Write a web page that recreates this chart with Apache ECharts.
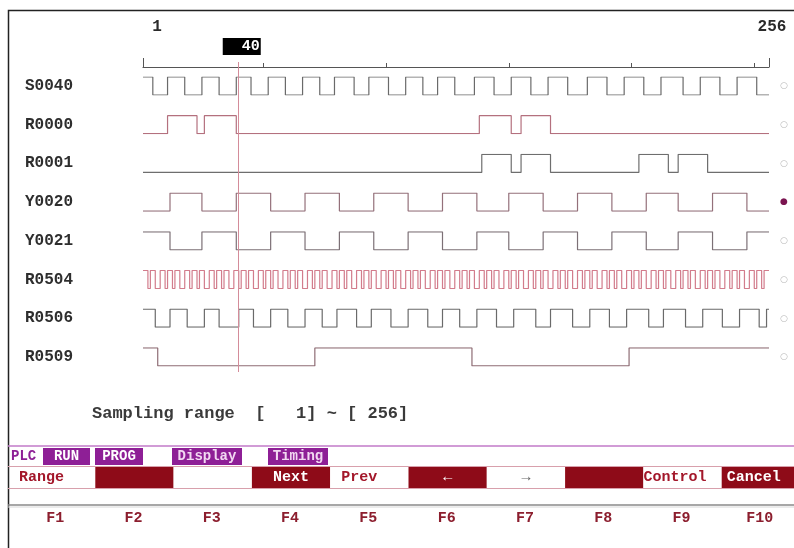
<!DOCTYPE html>
<html>
<head>
<meta charset="utf-8">
<script src="https://cdn.jsdelivr.net/npm/echarts@6/dist/echarts.min.js"></script>
<style>
  html, body { margin: 0; padding: 0; background: #fff; }
  #main { width: 794px; height: 548px; }
</style>
</head>
<body>
<div id="main"></div>
<script>
  // 采样范围 / 光标
  var sampleMin = 1;
  var sampleMax = 256;
  var cursorAt = 40;
  var tickValues = [1, 50, 100, 150, 200, 250, 256];
  var endTicks = [1, 256];

  // 信号名、初始电平、跳变点（采样序号）
  var signalNames = ['S0040', 'R0000', 'R0001', 'Y0020', 'Y0021', 'R0504', 'R0506', 'R0509'];
  var startLevels = [1, 0, 0, 0, 1, 1, 1, 1];
  var s0040Edges = [5, 11, 18, 25, 32, 39, 45, 52, 59, 66, 73, 79, 87, 93, 101, 108, 115, 121, 128, 136,
    144, 151, 159, 166, 174, 182, 190, 197, 205, 212, 221, 228, 236, 243, 251];
  var r0000Edges = [11, 23, 26, 39, 138, 151, 155, 167];
  var r0001Edges = [139, 151, 155, 167, 203, 215, 219, 231];
  var y0020Edges = [12, 25, 39, 53, 67, 81, 95, 109, 123, 137, 150, 164, 178, 192, 206, 219, 233, 247];
  var y0021Edges = [12, 25, 39, 53, 67, 81, 95, 109, 123, 137, 150, 164, 178, 192, 206, 219, 233, 247];
  var r0504Edges = [3, 4, 6, 8, 10, 11, 13, 14, 16, 18, 20, 21, 23, 24, 26, 28, 30, 31, 33, 34, 36, 38, 40, 41,
    43, 44, 46, 48, 50, 51, 53, 54, 56, 58, 60, 61, 63, 64, 66, 68, 70, 71, 73, 74, 76, 78, 80, 81,
    83, 84, 86, 88, 90, 91, 93, 94, 96, 98, 100, 101, 103, 104, 106, 108, 110, 111, 113, 114, 116, 118, 120, 121,
    123, 124, 126, 128, 130, 131, 133, 134, 136, 138, 140, 141, 143, 144, 146, 148, 150, 151, 153, 154, 156, 158, 160, 161,
    163, 164, 166, 168, 170, 171, 173, 174, 176, 178, 180, 181, 183, 184, 186, 188, 190, 191, 193, 194, 196, 198, 200, 201,
    203, 204, 206, 208, 210, 211, 213, 214, 216, 218, 220, 221, 223, 224, 226, 228, 230, 231, 233, 234, 236, 238, 240, 241,
    243, 244, 246, 248, 250, 251, 253, 254];
  var r0506Edges = [6, 12, 19, 26, 32, 40, 46, 53, 60, 67, 74, 80, 88, 94, 102, 109, 117, 123, 130, 137,
    145, 152, 161, 167, 176, 183, 191, 198, 207, 213, 222, 229, 237, 244, 252, 255];
  var r0509Edges = [7, 71, 135, 199];
  var signalEdges = [s0040Edges, r0000Edges, r0001Edges, y0020Edges, y0021Edges, r0504Edges, r0506Edges, r0509Edges];
  var monitorMarks = ['○', '○', '○', '●', '○', '○', '○', '○'];

  var rangeText = 'Sampling range  [   1] ~ [ 256]';
  var menuItems = ['PLC', 'RUN', 'PROG', 'Display', 'Timing'];
  var fkeyLabels = ['Range', '', '', 'Next', 'Prev', '←', '→', '', 'Control', 'Cancel'];
  var fkeyNames = ['F1', 'F2', 'F3', 'F4', 'F5', 'F6', 'F7', 'F8', 'F9', 'F10'];

  var mono = '"Liberation Mono", "DejaVu Sans Mono", monospace';
  var lineColors = ['#6a6a6a', '#b4707e', '#6e6e6e', '#94707a', '#7c7076', '#d27c8c', '#6a6a6a', '#8e6c74'];
  var markColors = ['#b8b8b8', '#b8b8b8', '#b8b8b8', '#7a1450', '#b8b8b8', '#b8b8b8', '#b8b8b8', '#b8b8b8'];

  function stepData(start, edges) {
    var lv = start;
    var pts = [[sampleMin, lv]];
    edges.forEach(function (e) {
      pts.push([e, lv]);
      lv = 1 - lv;
      pts.push([e, lv]);
    });
    pts.push([sampleMax, lv]);
    return pts;
  }

  var chart = echarts.init(document.getElementById('main'));

  var grids = [], xAxes = [], yAxes = [], series = [];
  signalNames.forEach(function (name, i) {
    grids.push({ left: 143, width: 626, top: 77 + 38.7 * i, height: 18 });
    xAxes.push({ gridIndex: i, type: 'value', min: sampleMin, max: sampleMax, show: false });
    yAxes.push({
      gridIndex: i, type: 'value', min: 0, max: 1, position: 'left',
      axisLine: { show: false }, axisTick: { show: false }, splitLine: { show: false },
      axisLabel: {
        customValues: [0.5], formatter: function () { return name; },
        align: 'left', margin: 118, color: '#2e2e2e', fontFamily: mono, fontWeight: 'bold', fontSize: 16
      }
    });
    yAxes.push({
      gridIndex: i, type: 'value', min: 0, max: 1, position: 'right',
      axisLine: { show: false }, axisTick: { show: false }, splitLine: { show: false },
      axisLabel: {
        customValues: [0.5], formatter: function () { return monitorMarks[i]; },
        margin: 11, color: markColors[i], fontFamily: '"DejaVu Sans"', fontSize: 9
      }
    });
    series.push({
      name: name, type: 'line', xAxisIndex: i, yAxisIndex: i * 2,
      data: stepData(startLevels[i], signalEdges[i]),
      showSymbol: false, silent: true, animation: false,
      lineStyle: { color: lineColors[i], width: 1.2 }
    });
  });

  // 时间轴
  grids.push({ left: 143, width: 626, top: 40, height: 27 });
  xAxes.push({
    gridIndex: 8, type: 'value', min: sampleMin, max: sampleMax, position: 'bottom',
    axisLine: { show: true, lineStyle: { color: '#555', width: 1.2 } },
    axisTick: { show: true, inside: true, length: 4, customValues: tickValues, lineStyle: { color: '#555' } },
    axisLabel: { show: false }, splitLine: { show: false }
  });
  xAxes.push({
    gridIndex: 8, type: 'value', min: sampleMin, max: sampleMax, position: 'bottom',
    axisLine: { show: false },
    axisTick: { show: true, inside: true, length: 9, customValues: endTicks, lineStyle: { color: '#555' } },
    axisLabel: { show: false }, splitLine: { show: false }
  });
  xAxes.push({
    gridIndex: 8, type: 'value', min: sampleMin, max: sampleMax, position: 'top',
    axisLine: { show: false }, axisTick: { show: false }, splitLine: { show: false },
    axisLabel: {
      customValues: endTicks, margin: 5,
      formatter: function (v) { return v === sampleMin ? '{p|' + v + '}' : '{q|' + v + '}'; },
      rich: {
        p: { padding: [0, 0, 0, 28], color: '#2a2a2a', fontFamily: mono, fontWeight: 'bold', fontSize: 16 },
        q: { padding: [0, 0, 0, 6], color: '#2a2a2a', fontFamily: mono, fontWeight: 'bold', fontSize: 16 }
      }
    }
  });
  yAxes.push({ gridIndex: 8, type: 'value', show: false });

  // 光标
  grids.push({ left: 143, width: 626, top: 62, height: 310 });
  xAxes.push({ gridIndex: 9, type: 'value', min: sampleMin, max: sampleMax, show: false });
  yAxes.push({ gridIndex: 9, type: 'value', min: 0, max: 1, show: false });
  series.push({
    type: 'line', xAxisIndex: 11, yAxisIndex: yAxes.length - 1, data: [],
    silent: true, animation: false,
    markLine: {
      symbol: 'none', silent: true, animation: false,
      lineStyle: { color: '#d48c9a', width: 1, type: 'solid' },
      label: {
        show: true, position: 'end', distance: 7, offset: [3, 0],
        formatter: String(cursorAt), color: '#fff', backgroundColor: '#000',
        padding: [1, 1, 1, 19], fontFamily: mono, fontWeight: 'bold', fontSize: 15
      },
      data: [{ xAxis: cursorAt }]
    }
  });

  // 下方菜单和功能键
  var graphics = [];
  graphics.push({ type: 'rect', shape: { x: 8.5, y: 10.5, width: 800, height: 600 },
    style: { fill: 'none', stroke: '#222', lineWidth: 1.5 }, silent: true });
  graphics.push({ type: 'text', left: 92, top: 405,
    style: { text: rangeText, fill: '#3a3a3a', font: 'bold 17px ' + mono } });
  graphics.push({ type: 'line', shape: { x1: 8, y1: 446, x2: 794, y2: 446 },
    style: { stroke: '#c27ac8', lineWidth: 1.5 } });

  var menuBoxes = [null, [43, 47], [95, 48], [172, 70], [268, 60]];
  menuItems.forEach(function (t, k) {
    var b = menuBoxes[k];
    if (!b) {
      graphics.push({ type: 'text', x: 11, y: 456,
        style: { text: t, fill: '#8e2096', font: 'bold 14px ' + mono, verticalAlign: 'middle' } });
      return;
    }
    graphics.push({ type: 'rect', shape: { x: b[0], y: 448, width: b[1], height: 17 }, style: { fill: '#8e1f96' } });
    graphics.push({ type: 'text', x: b[0] + b[1] / 2, y: 456.5,
      style: { text: t, fill: k < 3 ? '#fff' : '#f2d8f2', font: 'bold 14px ' + mono, align: 'center', verticalAlign: 'middle' } });
  });

  graphics.push({ type: 'line', shape: { x1: 8, y1: 466.5, x2: 794, y2: 466.5 }, style: { stroke: '#d8a0ac', lineWidth: 1 } });
  graphics.push({ type: 'line', shape: { x1: 8, y1: 488.5, x2: 794, y2: 488.5 }, style: { stroke: '#d8a0ac', lineWidth: 1 } });
  var keyAlign = ['left', 'left', 'left', 'center', 'left', 'center', 'center', 'left', 'left', 'left'];
  var keyPad = [2, 0, 0, 0, 11, 0, 0, 0, 0, 5];
  fkeyLabels.forEach(function (t, k) {
    var x = 17 + 78.3 * k, w = 78.3, dark = k % 2 === 1;
    graphics.push({ type: 'rect', shape: { x: x, y: 467, width: w, height: 21 },
      style: { fill: dark ? '#8e0b18' : '#fff' } });
    if (t) {
      graphics.push({ type: 'text', x: keyAlign[k] === 'center' ? x + w / 2 : x + keyPad[k], y: 477.5,
        style: { text: t, fill: dark ? '#fff' : (k === 6 ? '#666' : '#a3172a'), font: 'bold 15px ' + mono,
          align: keyAlign[k], verticalAlign: 'middle' } });
    }
    graphics.push({ type: 'text', x: x + w / 2 - 1, y: 518,
      style: { text: fkeyNames[k], fill: '#8c1e2e', font: 'bold 15px ' + mono, align: 'center', verticalAlign: 'middle' } });
  });
  graphics.push({ type: 'line', shape: { x1: 8, y1: 505, x2: 794, y2: 505 }, style: { stroke: '#8a8a8a', lineWidth: 1.5 } });
  graphics.push({ type: 'line', shape: { x1: 8, y1: 507, x2: 794, y2: 507 }, style: { stroke: '#d8d8d8', lineWidth: 1 } });

  chart.setOption({
    backgroundColor: '#fff',
    animation: false,
    grid: grids,
    xAxis: xAxes,
    yAxis: yAxes,
    series: series,
    graphic: graphics
  });
</script>
</body>
</html>
